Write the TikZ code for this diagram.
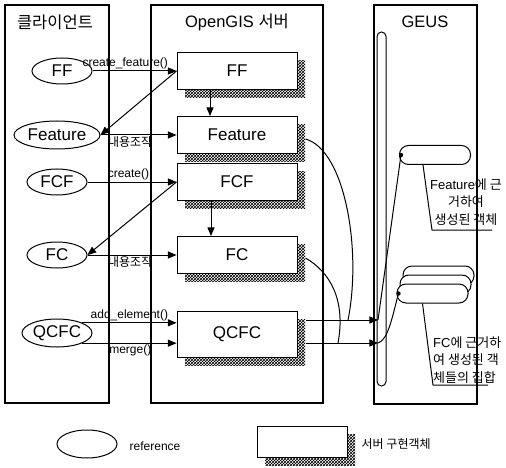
\documentclass[tikz,border=0pt]{standalone}
\usepackage{fontspec}
\setmainfont{Liberation Sans}
\newfontfamily\kr{Noto Sans CJK KR}
\usetikzlibrary{positioning,arrows,shapes,calc,patterns}
\tikzset{
  column/.style={draw, line width=1.2pt},
  title/.style={font=\fontsize{16.5}{18}\selectfont},
  ref/.style={ellipse, draw, line width=1pt, inner sep=0pt,
    font=\fontsize{17}{19}\selectfont},
  impl/.style={draw, line width=1pt, fill=white, minimum width=120pt,
    minimum height=37pt, inner sep=0pt, font=\fontsize{17}{19}\selectfont},
  implshadow/.style={pattern=crosshatch, draw=none, preaction={pattern=crosshatch dots}},
  call/.style={-triangle 45, line width=1pt},
  wire/.style={line width=1pt},
  meth/.style={font=\fontsize{12}{13}\selectfont, inner sep=1.5pt},
  obj/.style={draw, fill=white, line width=1pt, rounded corners=9pt,
    minimum width=71pt, minimum height=19pt, inner sep=0pt},
  note/.style={font=\fontsize{13}{17.5}\selectfont, inner sep=0pt}
}
\begin{document}
\begin{tikzpicture}[x=1pt,y=-1pt]
    \useasboundingbox (0,0) rectangle (506,468);

    % three columns
    \draw[column] (5,5) rectangle (109,403);
    \draw[column] (151,5) rectangle (323,403);
    \draw[column] (374,5) rectangle (477,404);
    \node[title] (tclient) at (55,22) {\kr 클라이언트};
    \node[title] (tserver) at (237,22) {OpenGIS {\kr 서버}};
    \node[title] (tgeus)   at (425,22) {GEUS};

    % client side references
    \node[ref, minimum width=60pt, minimum height=26pt] (FFe)      at (62,71)  {FF};
    \node[ref, minimum width=86pt, minimum height=28pt] (Featuree) at (57,135) {Feature};
    \node[ref, minimum width=60pt, minimum height=26pt] (FCFe)     at (57,182) {FCF};
    \node[ref, minimum width=60pt, minimum height=26pt] (FCe)      at (57,255) {FC};
    \node[ref, minimum width=70pt, minimum height=28pt] (QCFCe)    at (57,333) {QCFC};

    % server objects, each with its shadow
    \foreach \nm/\y/\h/\txt in {FFb/71/37/FF, Featureb/135/37/Feature, FCFb/182/37/FCF,
                                FCb/255/37/FC, QCFCb/334/46/QCFC}{
      \fill[implshadow] (185,\y-\h/2+8) rectangle (305,\y+\h/2+8);
      \node[impl, minimum height=\h pt] (\nm) at (237,\y) {\txt};
    }

    \draw[call] (FFe) -- (FFb) node[meth, above, pos=0.39] {create\_feature()};
    \draw[call] (FFb.west) -- (Featuree.east);
    \draw[call] (Featuree.east) -- (Featureb.west) node[meth, below, pos=0.39] {\kr 내용조작};
    \draw[call] ([xshift=-27pt]FFb.south) -- ([xshift=-27pt]Featureb.north);

    \draw[call] (FCFe) -- (FCFb) node[meth, above, pos=0.46] {create()};
    \draw[call] (FCFb.west) -- (FCe.east);
    \draw[call] (FCe) -- (FCb) node[meth, below, pos=0.48] {\kr 내용조작};
    \draw[call] ([xshift=-26pt]FCFb.south) -- ([xshift=-26pt]FCb.north);

    \draw[call] (QCFCe.22) -- (QCFCe.22 -| QCFCb.west) node[meth, above, pos=0.5] {add\_element()};
    \draw[call] (QCFCe.-22) -- (QCFCe.-22 -| QCFCb.west) node[meth, below, pos=0.51] {merge()};

    % GEUS side
    \node[draw, line width=1pt, rounded corners=4.5pt, minimum width=9pt,
      minimum height=354pt, inner sep=0pt] (bus) at (381.5,209) {};
    \node[obj] (fo)  at (435,155) {};
    \node[obj] (fc3) at (438.5,275.5) {};
    \node[obj] (fc2) at (435.5,284.5) {};
    \node[obj] (fc1) at (432.5,293.5) {};

    \coordinate (in1) at (378,320);
    \coordinate (in2) at (378,343);
    \coordinate (j1) at (348,320);
    \coordinate (j2) at (338,343);
    \coordinate (fod) at ([xshift=2pt]fo.west);
    \coordinate (fcd) at ([xshift=2pt]fc1.west);

    \draw[call] ($(QCFCb.east |- in1)+(8,0)$) -- (in1);
    \draw[call] ($(QCFCb.east |- in2)+(8,0)$) -- (in2);
    \draw[wire] ($(Featureb.east)+(8,4)$) .. controls (345,150) and (362,250) .. (j1);
    \draw[wire] ($(FCb.east)+(8,3)$) .. controls (330,272) and (346,300) .. (j2);
    \draw[wire] (in1) -- (fod);
    \draw[wire] (in2) .. controls (388,340) and (392,318) .. (fcd);
    \fill (fod) circle (2.2pt);
    \fill (fcd) circle (2.2pt);

    % callouts
    \draw[wire] ($(fo.south)+(-12,0)$) -- (432,230) -- (492,230);
    \node[note, align=center] (fotext) at (466,202)
      {Feature{\kr 에 근}\\{\kr 거하여}\\{\kr 생성된 객체}};
    \draw[wire] ($(fc1.south)+(-10,0)$) -- (433,385) -- (488,385);
    \node[note, align=left, anchor=west] (fctext) at (433,360)
      {FC{\kr 에 근거하}\\{\kr 여 생성된 객}\\{\kr 체들의 집합}};

    % legend
    \node[ref, minimum width=60pt, minimum height=28pt] (lref) at (87,444) {};
    \node[meth, anchor=west] (lreftext) at (128,446) {reference};
    \fill[implshadow] (265,434) rectangle (355,465);
    \node[impl, minimum width=90pt, minimum height=31pt] (limpl) at (302,441.5) {};
    \node[meth, anchor=west] (limpltext) at (360,444) {\kr 서버 구현객체};
\end{tikzpicture}
\end{document}
